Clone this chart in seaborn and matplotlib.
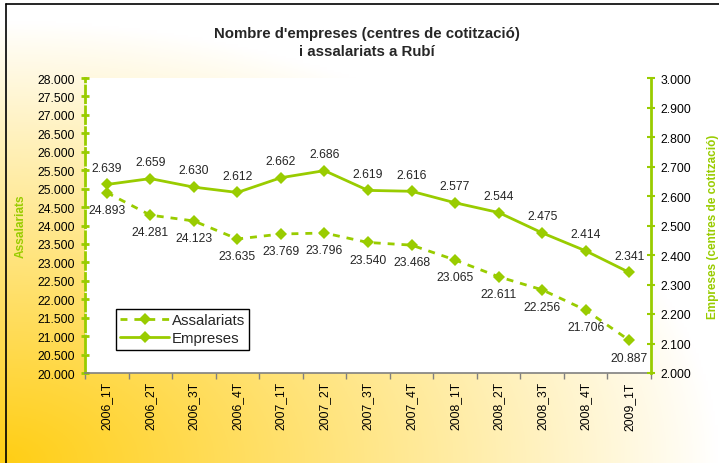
import numpy as np
import pandas as pd
import matplotlib
matplotlib.use('Agg')
import matplotlib.pyplot as plt
from matplotlib.lines import Line2D
from matplotlib.ticker import FuncFormatter, MultipleLocator
import seaborn as sns

trimestres = ['2006_1T', '2006_2T', '2006_3T', '2006_4T',
              '2007_1T', '2007_2T', '2007_3T', '2007_4T',
              '2008_1T', '2008_2T', '2008_3T', '2008_4T', '2009_1T']
assalariats = [24893, 24281, 24123, 23635, 23769, 23796, 23540,
               23468, 23065, 22611, 22256, 21706, 20887]
empreses = [2639, 2659, 2630, 2612, 2662, 2686, 2619,
            2616, 2577, 2544, 2475, 2414, 2341]

df = pd.DataFrame({'Trimestre': trimestres,
                   'Assalariats': assalariats,
                   'Empreses': empreses})

GREEN = '#99CC00'
W, H = 719, 464

sns.set_style('white')
plt.rcParams['font.family'] = ['Liberation Sans', 'DejaVu Sans']


def miles(v, pos=None):
    return f'{v:,.0f}'.replace(',', '.')


fig = plt.figure(figsize=(W / 100, H / 100), dpi=100)

# fons degradat (taronja a baix a l'esquerra -> blanc)
bg = fig.add_axes([0, 0, 1, 1], zorder=-10)
u = np.linspace(0, 1, 300)
v = np.linspace(1, 0, 200)
U, V = np.meshgrid(u, v)
t = np.clip(1 - np.sqrt(U ** 2 + (V * 1.05) ** 2), 0, 1) ** 0.95
orange = np.array([255, 206, 20]) / 255
img = (1 - t[..., None]) * np.array([1, 1, 1]) + t[..., None] * orange
bg.imshow(img, aspect='auto', extent=[0, 1, 0, 1])
bg.axis('off')

# vora negra
fig.add_artist(Line2D([6 / W, 6 / W], [0, 1 - 5 / H], color='black', lw=1.2,
                      transform=fig.transFigure))
fig.add_artist(Line2D([6 / W, 1], [1 - 5 / H, 1 - 5 / H], color='black', lw=1.2,
                      transform=fig.transFigure))

left, right, top, bottom = 85, 651, 79, 374
ax = fig.add_axes([left / W, (H - bottom) / H, (right - left) / W, (bottom - top) / H])
ax.set_facecolor('white')
ax2 = ax.twinx()

sns.lineplot(data=df, x='Trimestre', y='Assalariats', ax=ax, color=GREEN,
             marker='D', markersize=6.5, markeredgewidth=0, lw=2,
             linestyle=(0, (2.5, 2.5)), sort=False)
sns.lineplot(data=df, x='Trimestre', y='Empreses', ax=ax2, color=GREEN,
             marker='D', markersize=6.5, markeredgewidth=0, lw=2, sort=False)

ax.set_xlim(-0.5, len(trimestres) - 0.5)
ax.set_ylim(20000, 28000)
ax2.set_ylim(2000, 3000)
ax.yaxis.set_major_locator(MultipleLocator(500))
ax2.yaxis.set_major_locator(MultipleLocator(100))
ax.yaxis.set_major_formatter(FuncFormatter(miles))
ax2.yaxis.set_major_formatter(FuncFormatter(miles))

ax.set_xticks(range(len(trimestres)))
ax.set_xticklabels(trimestres, rotation=90)
ax.set_xticks(np.arange(-0.5, len(trimestres), 1), minor=True)
ax.tick_params(axis='x', which='major', length=0, pad=6, labelsize=8.7,
               labelcolor='black')
ax.tick_params(axis='x', which='minor', length=4, width=1, color='#808080',
               direction='out', bottom=True)
ax.tick_params(axis='y', which='major', left=True, length=6, width=2,
               color=GREEN, direction='inout', pad=4, labelsize=8.7,
               labelcolor='black')
ax2.tick_params(axis='y', which='major', right=True, length=6, width=1.5,
                color=GREEN, direction='inout', pad=4, labelsize=8.7,
                labelcolor='black')

for a in (ax, ax2):
    a.spines['top'].set_visible(False)
    a.set_xlabel('')
ax.spines['right'].set_visible(False)
ax.spines['left'].set_color(GREEN)
ax.spines['left'].set_linewidth(2)
ax.spines['left'].set_linestyle((0, (6, 1.5)))
ax.spines['bottom'].set_color('#808080')
ax.spines['bottom'].set_linewidth(1.2)
ax2.spines['left'].set_visible(False)
ax2.spines['bottom'].set_visible(False)
ax2.spines['right'].set_color(GREEN)
ax2.spines['right'].set_linewidth(2)

ax.set_ylabel('Assalariats', color=GREEN, fontsize=8.6, fontweight='bold',
              labelpad=8)
ax2.set_ylabel('Empreses (centres de cotització)', color=GREEN, fontsize=8.5,
               fontweight='bold', labelpad=11)

for i, (a, e) in enumerate(zip(assalariats, empreses)):
    ax2.annotate(miles(e), (i, e), xytext=(0, 12), textcoords='offset points',
                 ha='center', va='center', fontsize=8.7)
    ax.annotate(miles(a), (i, a), xytext=(0, -12.5), textcoords='offset points',
                ha='center', va='center', fontsize=8.7)

handles = [Line2D([], [], color=GREEN, lw=2, linestyle=(0, (2.5, 2.5)),
                  marker='D', markersize=6.5, markeredgewidth=0),
           Line2D([], [], color=GREEN, lw=2, marker='D', markersize=6.5,
                  markeredgewidth=0)]
if ax.get_legend():
    ax.get_legend().remove()
if ax2.get_legend():
    ax2.get_legend().remove()
leg = ax2.legend(handles, ['Assalariats', 'Empreses'], loc='lower left',
                 bbox_to_anchor=((116 - left) / (right - left),
                                 (bottom - 351) / (bottom - top)),
                 borderaxespad=0, fontsize=10.8, frameon=True, fancybox=False,
                 edgecolor='black', framealpha=1, handlelength=3.2,
                 handletextpad=0.2, borderpad=0.3, labelspacing=0.3)
leg.get_frame().set_linewidth(1)

fig.text(367 / W, 1 - 43 / H,
         "Nombre d'empreses (centres de cotització)\ni assalariats a Rubí",
         ha='center', va='center', fontsize=10.8, fontweight='bold',
         linespacing=1.35)

fig.savefig('out.png', dpi=100)
